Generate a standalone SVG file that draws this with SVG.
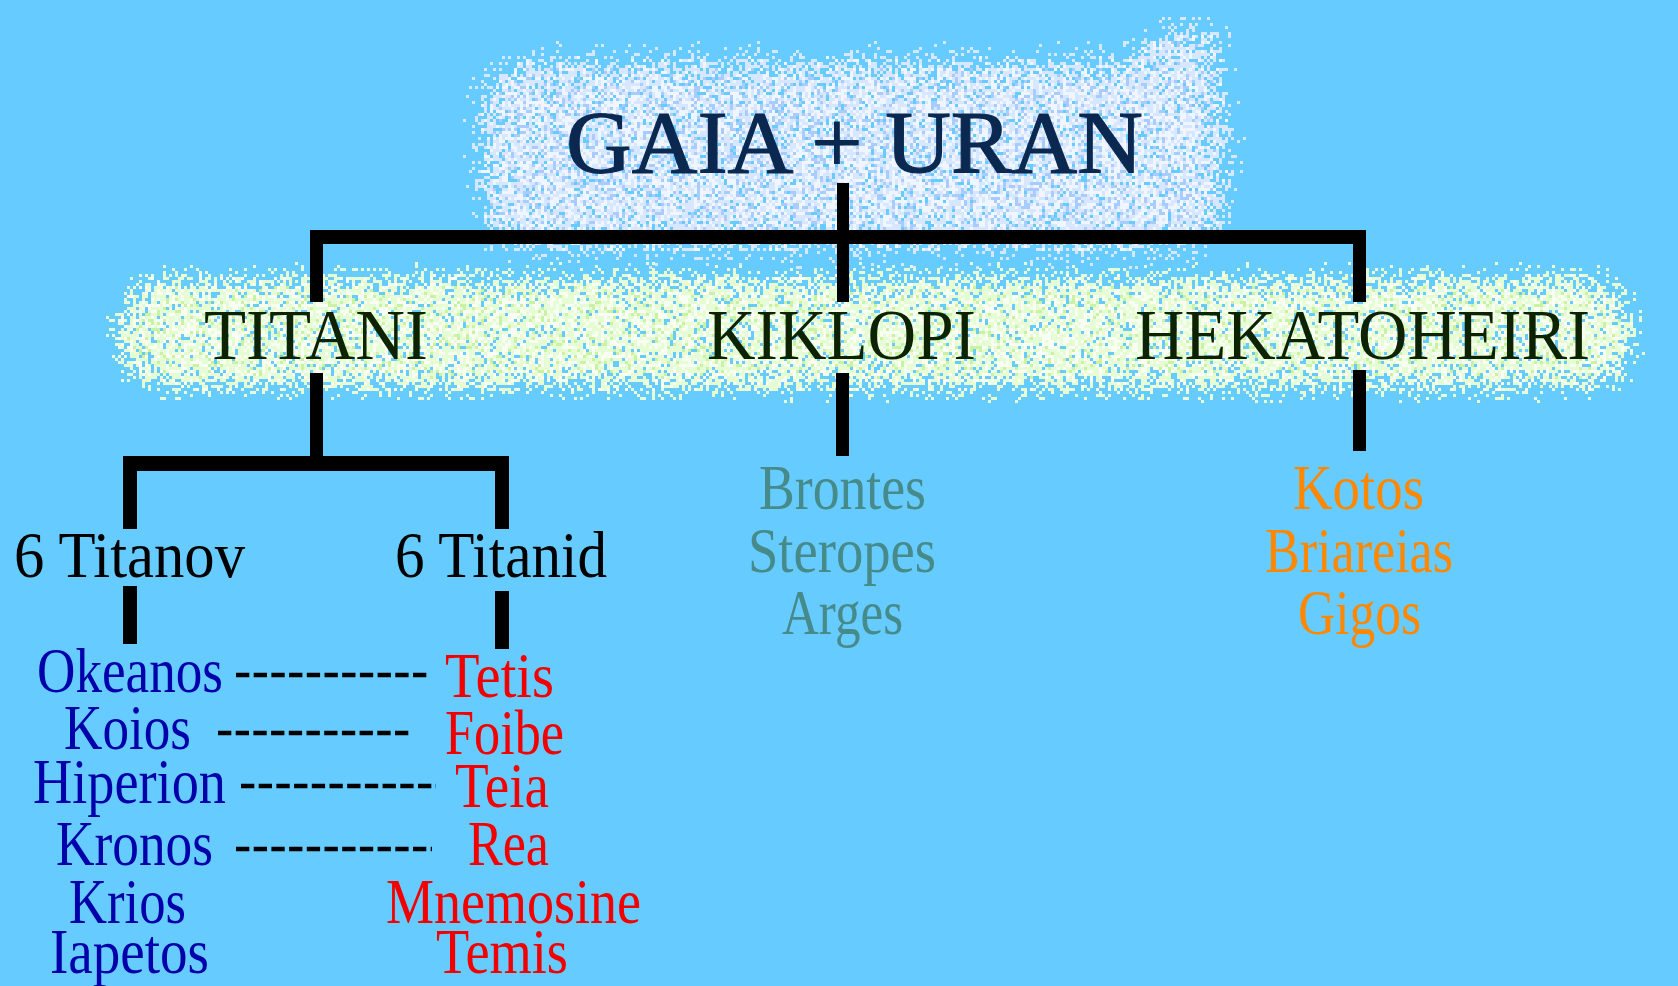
<svg xmlns="http://www.w3.org/2000/svg" width="1678" height="986" viewBox="0 0 1678 986">
  <defs>
    <style>
      text { font-family: "Liberation Serif", "Times New Roman", serif; }
      .title { font-size: 71px; fill: #0c2200; }
      .gen { font-size: 66px; fill: #000000; }
      .name { font-size: 63px; }
      .blue { fill: #0000aa; }
      .red { fill: #f20000; }
      .teal { fill: #468a8a; }
      .orange { fill: #ff8800; }
      .bar { fill: #000000; }
      .dash { stroke: #000000; stroke-width: 4.5; stroke-dasharray: 13.3 4.4; fill: none; }
    </style>
    <filter id="cloudBlue" filterUnits="userSpaceOnUse" x="380" y="0" width="960" height="330" color-interpolation-filters="sRGB">
      <feGaussianBlur in="SourceAlpha" stdDeviation="20" result="soft"/>
      <feTurbulence type="fractalNoise" baseFrequency="0.45" numOctaves="1" seed="7" result="n1"/>
      <feColorMatrix in="n1" type="matrix" values="0 0 0 0 0  0 0 0 0 0  0 0 0 0 0  2.6 0 0 0 -0.8" result="a1"/>
      <feComposite in="soft" in2="a1" operator="arithmetic" k1="0" k2="1" k3="1" k4="-0.8" result="m1"/>
      <feComponentTransfer in="m1" result="t1"><feFuncA type="discrete" tableValues="0 1"/></feComponentTransfer>
      <feFlood flood-color="#d6e7ff" result="c1"/>
      <feComposite in="c1" in2="t1" operator="in" result="l1"/>
      <feTurbulence type="fractalNoise" baseFrequency="0.45" numOctaves="1" seed="19" result="n2"/>
      <feColorMatrix in="n2" type="matrix" values="0 0 0 0 0  0 0 0 0 0  0 0 0 0 0  2.6 0 0 0 -0.8" result="a2"/>
      <feComposite in="soft" in2="a2" operator="arithmetic" k1="0" k2="1.6" k3="1" k4="-1.75" result="m2"/>
      <feComponentTransfer in="m2" result="t2"><feFuncA type="discrete" tableValues="0 1"/></feComponentTransfer>
      <feFlood flood-color="#a8ccff" result="c2"/>
      <feComposite in="c2" in2="t2" operator="in" result="l2"/>
      <feTurbulence type="fractalNoise" baseFrequency="0.45" numOctaves="1" seed="41" result="n3"/>
      <feColorMatrix in="n3" type="matrix" values="0 0 0 0 0  0 0 0 0 0  0 0 0 0 0  2.6 0 0 0 -0.8" result="a3"/>
      <feComposite in="soft" in2="a3" operator="arithmetic" k1="0" k2="1" k3="1" k4="-1.1" result="m3"/>
      <feComponentTransfer in="m3" result="t3"><feFuncA type="discrete" tableValues="0 1"/></feComponentTransfer>
      <feFlood flood-color="#f0f6ff" result="c3"/>
      <feComposite in="c3" in2="t3" operator="in" result="l3"/>
      <feMerge result="sp"><feMergeNode in="l1"/><feMergeNode in="l2"/><feMergeNode in="l3"/></feMerge>
      <feFlood x="380" y="0" width="3" height="3" flood-opacity="0" result="cell"/>
      <feFlood x="380" y="0" width="1" height="1" flood-color="#000" result="dot"/>
      <feMerge x="380" y="0" width="3" height="3" result="tileSrc"><feMergeNode in="cell"/><feMergeNode in="dot"/></feMerge>
      <feTile in="tileSrc" x="380" y="0" width="960" height="330" result="grid"/>
      <feComposite in="sp" in2="grid" operator="in" x="380" y="0" width="960" height="330" result="samples"/>
      <feMorphology in="samples" operator="dilate" radius="1" x="380" y="0" width="960" height="330"/>
    </filter>
    <filter id="cloudGreen" filterUnits="userSpaceOnUse" x="20" y="200" width="1658" height="280" color-interpolation-filters="sRGB">
      <feGaussianBlur in="SourceAlpha" stdDeviation="16" result="soft"/>
      <feTurbulence type="fractalNoise" baseFrequency="0.45" numOctaves="1" seed="3" result="n1"/>
      <feColorMatrix in="n1" type="matrix" values="0 0 0 0 0  0 0 0 0 0  0 0 0 0 0  2.6 0 0 0 -0.8" result="a1"/>
      <feComposite in="soft" in2="a1" operator="arithmetic" k1="0" k2="1" k3="1" k4="-0.8" result="m1"/>
      <feComponentTransfer in="m1" result="t1"><feFuncA type="discrete" tableValues="0 1"/></feComponentTransfer>
      <feFlood flood-color="#e6fcd4" result="c1"/>
      <feComposite in="c1" in2="t1" operator="in" result="l1"/>
      <feTurbulence type="fractalNoise" baseFrequency="0.45" numOctaves="1" seed="29" result="n2"/>
      <feColorMatrix in="n2" type="matrix" values="0 0 0 0 0  0 0 0 0 0  0 0 0 0 0  2.6 0 0 0 -0.8" result="a2"/>
      <feComposite in="soft" in2="a2" operator="arithmetic" k1="0" k2="1.6" k3="1" k4="-1.85" result="m2"/>
      <feComponentTransfer in="m2" result="t2"><feFuncA type="discrete" tableValues="0 1"/></feComponentTransfer>
      <feFlood flood-color="#caf2a4" result="c2"/>
      <feComposite in="c2" in2="t2" operator="in" result="l2"/>
      <feTurbulence type="fractalNoise" baseFrequency="0.45" numOctaves="1" seed="53" result="n3"/>
      <feColorMatrix in="n3" type="matrix" values="0 0 0 0 0  0 0 0 0 0  0 0 0 0 0  2.6 0 0 0 -0.8" result="a3"/>
      <feComposite in="soft" in2="a3" operator="arithmetic" k1="0" k2="1" k3="1" k4="-1.1" result="m3"/>
      <feComponentTransfer in="m3" result="t3"><feFuncA type="discrete" tableValues="0 1"/></feComponentTransfer>
      <feFlood flood-color="#f8fff2" result="c3"/>
      <feComposite in="c3" in2="t3" operator="in" result="l3"/>
      <feMerge result="sp"><feMergeNode in="l1"/><feMergeNode in="l2"/><feMergeNode in="l3"/></feMerge>
      <feFlood x="20" y="200" width="3" height="3" flood-opacity="0" result="cell"/>
      <feFlood x="20" y="200" width="1" height="1" flood-color="#000" result="dot"/>
      <feMerge x="20" y="200" width="3" height="3" result="tileSrc"><feMergeNode in="cell"/><feMergeNode in="dot"/></feMerge>
      <feTile in="tileSrc" x="20" y="200" width="1658" height="280" result="grid"/>
      <feComposite in="sp" in2="grid" operator="in" x="20" y="200" width="1658" height="280" result="samples"/>
      <feMorphology in="samples" operator="dilate" radius="1" x="20" y="200" width="1658" height="280"/>
    </filter>
  </defs>

  <rect x="0" y="0" width="1678" height="986" fill="#66ccff"/>

  <g id="clouds">
    <g id="cloud-blue" filter="url(#cloudBlue)">
      <rect x="474" y="52" width="760" height="205" rx="45"/>
      <ellipse cx="1185" cy="42" rx="52" ry="22"/>
    </g>
    <g id="cloud-green" filter="url(#cloudGreen)">
      <rect x="110" y="270" width="1532" height="126" rx="58"/>
    </g>
  </g>

  <g id="connectors">
    <rect class="bar" x="837" y="183" width="12" height="119"/>
    <rect class="bar" x="310" y="230" width="1056" height="14"/>
    <rect class="bar" x="310" y="230" width="13" height="72"/>
    <rect class="bar" x="1353" y="230" width="13" height="72"/>
    <rect class="bar" x="310" y="373" width="13" height="98"/>
    <rect class="bar" x="123" y="456" width="386" height="15"/>
    <rect class="bar" x="123" y="456" width="14" height="73"/>
    <rect class="bar" x="495" y="456" width="14" height="73"/>
    <rect class="bar" x="123" y="586" width="14" height="58"/>
    <rect class="bar" x="495" y="591" width="14" height="58"/>
    <rect class="bar" x="836" y="373" width="13" height="83"/>
    <rect class="bar" x="1353" y="370" width="13" height="81"/>
    <line class="dash" x1="236" y1="675" x2="427" y2="675"/>
    <line class="dash" x1="218" y1="733" x2="412" y2="733"/>
    <line class="dash" x1="241" y1="786" x2="436" y2="786"/>
    <line class="dash" x1="236" y1="849" x2="432" y2="849"/>
  </g>

  <g id="node-gaia-uran"><text x="566" y="172" font-size="89" fill="#0a2850" stroke="#0a2850" stroke-width="1.2" textLength="577" lengthAdjust="spacingAndGlyphs">GAIA + URAN</text></g>
  <g id="node-titani"><text class="title" x="204" y="359" textLength="224" lengthAdjust="spacingAndGlyphs">TITANI</text></g>
  <g id="node-kiklopi"><text class="title" x="707" y="359" textLength="269" lengthAdjust="spacingAndGlyphs">KIKLOPI</text></g>
  <g id="node-hekatoheiri"><text class="title" x="1135" y="359" textLength="455" lengthAdjust="spacingAndGlyphs">HEKATOHEIRI</text></g>
  <g id="node-6-titanov"><text class="gen" x="14" y="577" textLength="231" lengthAdjust="spacingAndGlyphs">6 Titanov</text></g>
  <g id="node-6-titanid"><text class="gen" x="395" y="577" textLength="212" lengthAdjust="spacingAndGlyphs">6 Titanid</text></g>

  <g id="node-okeanos"><text class="name blue" x="37" y="692" textLength="186" lengthAdjust="spacingAndGlyphs">Okeanos</text></g>
  <g id="node-koios"><text class="name blue" x="64" y="749" textLength="127" lengthAdjust="spacingAndGlyphs">Koios</text></g>
  <g id="node-hiperion"><text class="name blue" x="33" y="803" textLength="193" lengthAdjust="spacingAndGlyphs">Hiperion</text></g>
  <g id="node-kronos"><text class="name blue" x="56" y="865" textLength="157" lengthAdjust="spacingAndGlyphs">Kronos</text></g>
  <g id="node-krios"><text class="name blue" x="69" y="923" textLength="117" lengthAdjust="spacingAndGlyphs">Krios</text></g>
  <g id="node-iapetos"><text class="name blue" x="50" y="973" textLength="159" lengthAdjust="spacingAndGlyphs">Iapetos</text></g>

  <g id="node-tetis"><text class="name red" x="445" y="697" textLength="109" lengthAdjust="spacingAndGlyphs">Tetis</text></g>
  <g id="node-foibe"><text class="name red" x="445" y="754" textLength="119" lengthAdjust="spacingAndGlyphs">Foibe</text></g>
  <g id="node-teia"><text class="name red" x="455" y="807" textLength="94" lengthAdjust="spacingAndGlyphs">Teia</text></g>
  <g id="node-rea"><text class="name red" x="468" y="865" textLength="81" lengthAdjust="spacingAndGlyphs">Rea</text></g>
  <g id="node-mnemosine"><text class="name red" x="386" y="923" textLength="255" lengthAdjust="spacingAndGlyphs">Mnemosine</text></g>
  <g id="node-temis"><text class="name red" x="436" y="973" textLength="132" lengthAdjust="spacingAndGlyphs">Temis</text></g>

  <g id="node-brontes"><text class="name teal" x="759" y="509" textLength="167" lengthAdjust="spacingAndGlyphs">Brontes</text></g>
  <g id="node-steropes"><text class="name teal" x="748" y="572" textLength="188" lengthAdjust="spacingAndGlyphs">Steropes</text></g>
  <g id="node-arges"><text class="name teal" x="782" y="634" textLength="121" lengthAdjust="spacingAndGlyphs">Arges</text></g>

  <g id="node-kotos"><text class="name orange" x="1293" y="509" textLength="131" lengthAdjust="spacingAndGlyphs">Kotos</text></g>
  <g id="node-briareias"><text class="name orange" x="1265" y="572" textLength="188" lengthAdjust="spacingAndGlyphs">Briareias</text></g>
  <g id="node-gigos"><text class="name orange" x="1298" y="634" textLength="123" lengthAdjust="spacingAndGlyphs">Gigos</text></g>
</svg>
